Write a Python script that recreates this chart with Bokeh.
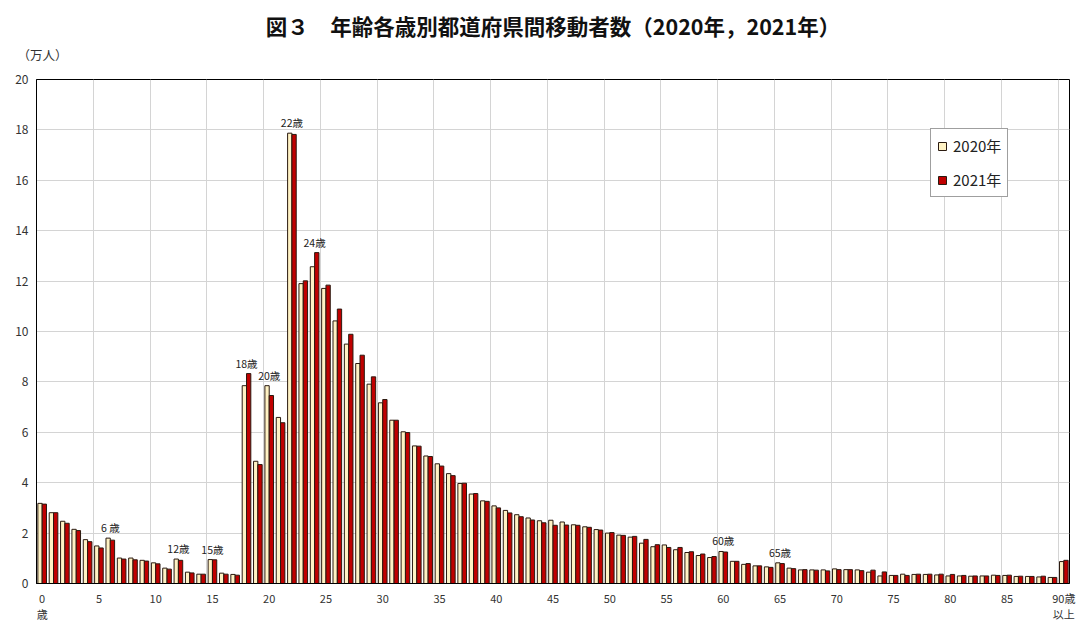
from bokeh.plotting import figure
from bokeh.models import ColumnDataSource, FixedTicker, Legend, LegendItem, Range1d, Title
from bokeh.transform import dodge
from bokeh.core.properties import value
from bokeh.embed import file_html
from bokeh.resources import INLINE

FONT = "Noto Sans CJK JP"

ages = list(range(91))  # 0..89, 90 = 90歳以上

v2020 = [3.18, 2.81, 2.47, 2.15, 1.74, 1.49, 1.80, 1.01, 1.01, 0.92, 0.82, 0.61, 0.97, 0.45, 0.37, 0.95, 0.41, 0.36,
         7.85, 4.85, 7.85, 6.59, 17.87, 11.90, 12.57, 11.71, 10.42, 9.50, 8.73, 7.91,
         7.17, 6.48, 6.02, 5.46, 5.06, 4.75, 4.36, 3.97, 3.55, 3.28,
         3.08, 2.90, 2.73, 2.60, 2.49, 2.51, 2.44, 2.33, 2.25, 2.14,
         2.00, 1.92, 1.84, 1.60, 1.46, 1.53, 1.34, 1.23, 1.11, 1.03,
         1.27, 0.88, 0.76, 0.70, 0.66, 0.82, 0.61, 0.54, 0.54, 0.54,
         0.58, 0.55, 0.54, 0.45, 0.30, 0.32, 0.37, 0.36, 0.36, 0.34,
         0.30, 0.30, 0.29, 0.30, 0.33, 0.32, 0.28, 0.28, 0.26, 0.24,
         0.87]

v2021 = [3.15, 2.81, 2.39, 2.10, 1.66, 1.41, 1.72, 0.97, 0.94, 0.89, 0.78, 0.57, 0.92, 0.42, 0.37, 0.94, 0.37, 0.33,
         8.33, 4.72, 7.46, 6.38, 17.82, 12.01, 13.13, 11.84, 10.89, 9.89, 9.06, 8.20,
         7.30, 6.48, 5.99, 5.45, 5.04, 4.66, 4.28, 3.98, 3.57, 3.26,
         3.00, 2.80, 2.65, 2.52, 2.41, 2.31, 2.32, 2.31, 2.23, 2.12,
         2.02, 1.91, 1.87, 1.75, 1.54, 1.43, 1.43, 1.26, 1.17, 1.07,
         1.25, 0.88, 0.79, 0.70, 0.64, 0.79, 0.59, 0.55, 0.53, 0.50,
         0.55, 0.55, 0.51, 0.53, 0.46, 0.32, 0.32, 0.37, 0.37, 0.37,
         0.36, 0.32, 0.30, 0.30, 0.32, 0.33, 0.29, 0.28, 0.29, 0.24,
         0.92]

tick_positions = list(range(0, 91, 5))
tick_labels = ["0\n歳"] + [str(t) for t in range(5, 90, 5)] + ["90歳\n以上"]

annot_ages = [6, 12, 15, 18, 20, 22, 24, 60, 65]
annot_texts = ["6 歳", "12歳", "15歳", "18歳", "20歳", "22歳", "24歳", "60歳", "65歳"]

series_names = ["2020年", "2021年"]
series_colors = ["#FFF2C4", "#C00000"]

title_text = "図３　年齢各歳別都道府県間移動者数（2020年，2021年）"
unit_text = "（万人）"

src = ColumnDataSource(dict(age=ages, v2020=v2020, v2021=v2021))

p = figure(width=1078, height=631, output_backend="svg", toolbar_location=None,
           x_range=Range1d(-0.5, 90.5), y_range=Range1d(0, 20),
           min_border_left=36, min_border_right=9, min_border_top=79, min_border_bottom=48)
p.background_fill_color = "white"
p.border_fill_color = "white"
p.outline_line_color = "#000000"
p.outline_line_width = 1

r1 = p.vbar(x=dodge("age", -0.19, range=p.x_range), top="v2020", width=0.38, source=src,
            fill_color=series_colors[0], line_color="#2a1a10", line_width=1)
r2 = p.vbar(x=dodge("age", 0.19, range=p.x_range), top="v2021", width=0.38, source=src,
            fill_color=series_colors[1], line_color="#2a1a10", line_width=1)

# grid
p.ygrid.ticker = FixedTicker(ticks=list(range(2, 20, 2)))
p.ygrid.grid_line_color = "#D4D4D4"
p.xgrid.ticker = FixedTicker(ticks=[t - 0.5 for t in range(5, 91, 5)])
p.xgrid.grid_line_color = "#D4D4D4"

# axes
p.yaxis.ticker = FixedTicker(ticks=list(range(0, 21, 2)))
p.yaxis.major_tick_out = 0
p.yaxis.major_tick_in = 0
p.yaxis.minor_tick_out = 0
p.yaxis.minor_tick_in = 0
p.yaxis.axis_line_color = "#000000"
p.yaxis.major_label_standoff = 8
p.yaxis.major_label_text_font = FONT
p.yaxis.major_label_text_font_size = "12px"
p.yaxis.major_label_text_color = "#333333"

p.xaxis.ticker = FixedTicker(ticks=tick_positions)
p.xaxis.major_label_overrides = {t: l for t, l in zip(tick_positions, tick_labels)}
p.xaxis.major_tick_out = 0
p.xaxis.major_tick_in = 0
p.xaxis.minor_tick_out = 0
p.xaxis.minor_tick_in = 0
p.xaxis.axis_line_color = "#000000"
p.xaxis.major_label_standoff = 6
p.xaxis.major_label_text_font = FONT
p.xaxis.major_label_text_font_size = "11px"
p.xaxis.major_label_text_line_height = 1.0
p.xaxis.major_label_text_color = "#333333"

# bar annotations
ann_y = [max(v2020[a], v2021[a]) for a in annot_ages]
p.text(x=annot_ages, y=ann_y, text=annot_texts, text_align="center", text_baseline="bottom",
       y_offset=-3, text_font=value(FONT), text_font_size="10.5px", text_color="#222222")

# unit label (closest to frame) and main title (outermost)
p.add_layout(Title(text=unit_text, align="left", text_font=FONT, text_font_size="12.5px",
                   text_font_style="normal", text_color="#333333", standoff=31, offset=-19), "above")
p.title.text = title_text
p.title.align = "center"
p.title.text_font = FONT
p.title.text_font_size = "21.5px"
p.title.text_font_style = "bold"
p.title.text_color = "#111111"
p.title.standoff = -26

legend = Legend(items=[LegendItem(label=series_names[0], renderers=[r1]),
                       LegendItem(label=series_names[1], renderers=[r2])],
                location=(894, 386), orientation="vertical",
                padding=6, spacing=13, margin=0,
                glyph_width=10, glyph_height=10, label_height=20, label_standoff=6,
                label_text_font=FONT, label_text_font_size="15px", label_text_color="#222222",
                border_line_color="#404040", border_line_width=1,
                background_fill_color="white", background_fill_alpha=1)
p.add_layout(legend)

open("out.html", "w").write(file_html(p, INLINE))
